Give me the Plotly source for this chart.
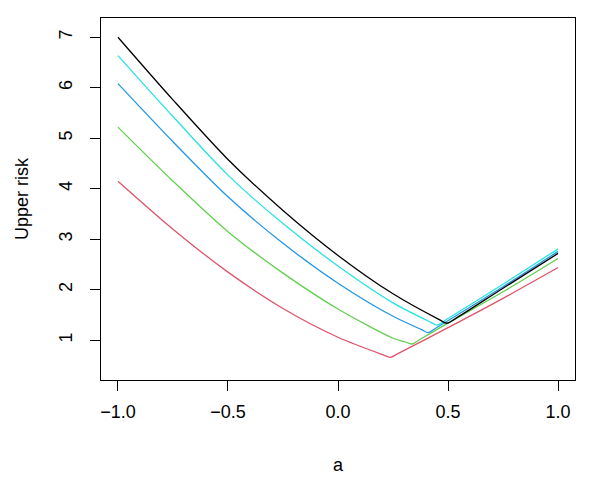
import plotly.graph_objects as go

# values (upper risk vs a), one list per curve
x_black = [-1.0, -0.75, -0.5, -0.25, 0.0, 0.25, 0.46, 0.495, 0.53, 0.75, 1.0]
y_black = [7.00, 5.76, 4.58, 3.57, 2.68, 1.92, 1.41, 1.337, 1.42, 2.03, 2.72]

x_cyan = [-1.0, -0.75, -0.5, -0.25, 0.0, 0.25, 0.42, 0.45, 0.5, 0.75, 1.0]
y_cyan = [6.636, 5.43, 4.27, 3.31, 2.47, 1.74, 1.36, 1.30, 1.43, 2.11, 2.81]

x_blue = [-1.0, -0.75, -0.5, -0.25, 0.0, 0.25, 0.38, 0.41, 0.44, 0.75, 1.0]
y_blue = [6.08, 4.93, 3.84, 2.92, 2.13, 1.475, 1.21, 1.15, 1.23, 2.06, 2.76]

x_green = [-1.0, -0.75, -0.5, -0.25, 0.0, 0.25, 0.30, 0.336, 0.37, 0.5, 0.75, 1.0]
y_green = [5.22, 4.15, 3.15, 2.33, 1.62, 1.04, 0.975, 0.927, 1.01, 1.34, 1.96, 2.62]

x_red = [-1.0, -0.75, -0.5, -0.25, 0.0, 0.2, 0.238, 0.27, 0.5, 0.75, 1.0]
y_red = [4.15, 3.20, 2.35, 1.63, 1.06, 0.72, 0.663, 0.73, 1.25, 1.83, 2.44]

x_ticks = [-1.0, -0.5, 0.0, 0.5, 1.0]
x_ticktext = ["\u22121.0", "\u22120.5", "0.0", "0.5", "1.0"]
y_ticks = [1, 2, 3, 4, 5, 6, 7]

fig = go.Figure()

# R palette colours, black drawn last so it sits on top
series = [
    (x_red, y_red, "#DF536B"),
    (x_green, y_green, "#61D04F"),
    (x_blue, y_blue, "#2297E6"),
    (x_cyan, y_cyan, "#28E2E5"),
    (x_black, y_black, "#000000"),
]
for xs, ys, col in series:
    fig.add_trace(go.Scatter(x=xs, y=ys, mode="lines",
                             line=dict(color=col, width=1.3, shape="spline", smoothing=0.8),
                             showlegend=False, hoverinfo="skip"))

font = dict(family="Liberation Sans, Arial, sans-serif", size=18, color="#000000")

# page body adds an 8px offset, so the figure is 8px smaller than the window
fig.update_layout(
    width=592, height=472,
    margin=dict(l=93, r=25, t=10, b=100),
    plot_bgcolor="white", paper_bgcolor="white",
    font=font,
)

fig.update_xaxes(
    range=[-1.077, 1.077],
    tickvals=x_ticks, ticktext=x_ticktext,
    ticks="outside", ticklen=10, tickwidth=1, tickcolor="#000000",
    showline=True, linecolor="#000000", linewidth=1, mirror=True,
    showgrid=False, zeroline=False, automargin=False,
    ticklabelstandoff=5,
    title=dict(text="a", standoff=37, font=font),
)
fig.update_yaxes(
    range=[0.214, 7.38],
    tickvals=y_ticks,
    ticks="outside", ticklen=10, tickwidth=1, tickcolor="#000000",
    tickangle=-90,
    showline=True, linecolor="#000000", linewidth=1, mirror=True,
    showgrid=False, zeroline=False, automargin=False,
    ticklabelstandoff=11,
    title=dict(text="Upper risk", standoff=22, font=font),
)

fig.write_html("out.html")
